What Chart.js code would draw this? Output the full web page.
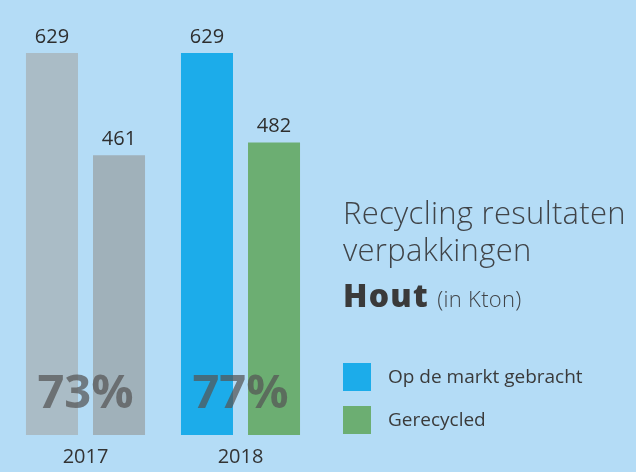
<!DOCTYPE html>
<html>
<head>
<meta charset="utf-8">
<script src="https://cdn.jsdelivr.net/npm/chart.js@4.4.1/dist/chart.umd.min.js"></script>
<style>
  html, body { margin: 0; padding: 0; }
  body { width: 636px; height: 472px; background: #b4dcf6; position: relative; overflow: hidden; font-family: "Open Sans", sans-serif; }
  #wrap { position: absolute; left: 0; top: 0; width: 636px; height: 472px; }
  .t { position: absolute; left: 343px; color: #404448; white-space: nowrap; }
  .title { font-size: 31px; font-weight: 300; line-height: 31px; letter-spacing: 0.3px; }
  .hout { font-size: 32px; line-height: 31px; }
  .hout b { font-weight: 800; color: #3a3a3a; letter-spacing: 1.2px; }
  .hout span { font-size: 22px; font-weight: 300; letter-spacing: 0.3px; }
  .leg { position: absolute; left: 343px; }
  .leg .sw { position: absolute; left: 0; width: 28px; height: 28px; }
  .leg .lb { position: absolute; left: 45px; top: 4px; font-size: 19px; line-height: 19px; color: #3a3a3a; white-space: nowrap; }
</style>
</head>
<body>
<div id="wrap"><canvas id="c" width="636" height="472"></canvas></div>
<div class="t title" style="top:197px">Recycling resultaten</div>
<div class="t title" style="top:234px">verpakkingen</div>
<div class="t hout" style="top:279px"><b>Hout</b> <span>(in Kton)</span></div>
<div id="legend"></div>
<script>
const categories = ["2017", "2018"];
const marketValues = [629, 629];
const recycledValues = [461, 482];
const seriesNames = ["Op de markt gebracht", "Gerecycled"];

const marketColors = ["#aabcc6", "#1cacea"];
const recycledColors = ["#a0b1ba", "#6cae72"];

// Legend (HTML)
const legend = document.getElementById('legend');
const legItems = [
  { name: seriesNames[0], color: marketColors[1], top: 363 },
  { name: seriesNames[1], color: recycledColors[1], top: 406 }
];
legItems.forEach(it => {
  const d = document.createElement('div');
  d.className = 'leg';
  d.style.top = it.top + 'px';
  d.innerHTML = '<div class="sw" style="background:' + it.color + '"></div><div class="lb">' + it.name + '</div>';
  legend.appendChild(d);
});

const labelsPlugin = {
  id: 'labelsPlugin',
  afterDatasetsDraw(chart) {
    const ctx = chart.ctx;
    ctx.save();
    ctx.font = '20px "Open Sans"';
    ctx.fillStyle = '#2e2e2e';
    ctx.textAlign = 'center';
    ctx.textBaseline = 'alphabetic';
    chart.data.datasets.forEach((ds, di) => {
      chart.getDatasetMeta(di).data.forEach((bar, i) => {
        ctx.fillText(String(ds.data[i]), bar.x, bar.y - 10);
      });
    });
    ctx.font = 'bold 47px "Open Sans"';
    ctx.fillStyle = 'rgba(85,85,85,0.72)';
    const xs = chart.scales.x;
    categories.forEach((c, i) => {
      const pct = Math.round(recycledValues[i] / marketValues[i] * 100) + '%';
      ctx.fillText(pct, xs.getPixelForValue(i), 408);
    });
    ctx.restore();
  }
};

new Chart(document.getElementById('c'), {
  type: 'bar',
  data: {
    labels: categories,
    datasets: [
      { label: seriesNames[0], data: marketValues, backgroundColor: marketColors, barPercentage: 0.776, categoryPercentage: 0.865 },
      { label: seriesNames[1], data: recycledValues, backgroundColor: recycledColors, barPercentage: 0.776, categoryPercentage: 0.865 }
    ]
  },
  options: {
    responsive: false,
    animation: false,
    layout: { padding: { left: 8, right: 318, top: 10, bottom: 1 } },
    plugins: { legend: { display: false }, tooltip: { enabled: false } },
    scales: {
      x: {
        grid: { display: false, drawTicks: false },
        border: { display: false },
        ticks: { padding: 4, color: '#333', font: { family: 'Open Sans', size: 20, lineHeight: 1.0 } }
      },
      y: { display: false, min: -13, max: 700 }
    }
  },
  plugins: [labelsPlugin]
});
</script>
</body>
</html>
